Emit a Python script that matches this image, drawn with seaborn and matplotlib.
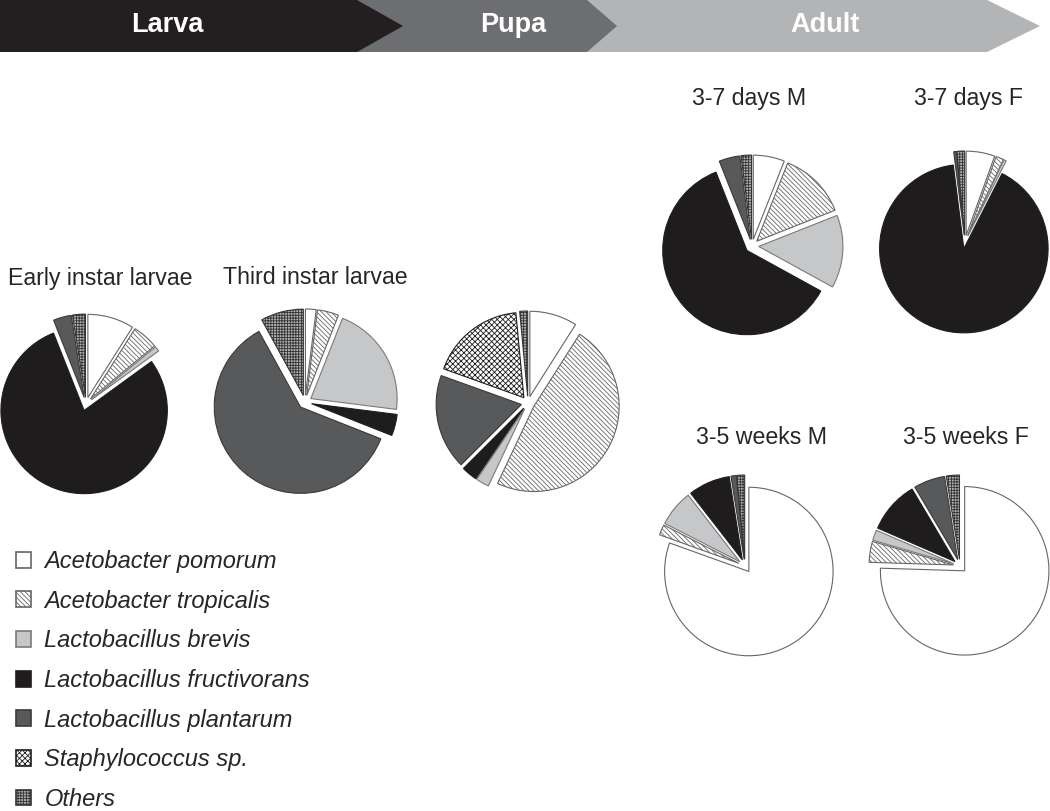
import matplotlib
matplotlib.use("Agg")
import matplotlib.pyplot as plt
import matplotlib.patches as mpatches
import seaborn as sns

# species and their fill styles
species = ['Acetobacter pomorum', 'Acetobacter tropicalis', 'Lactobacillus brevis',
           'Lactobacillus fructivorans', 'Lactobacillus plantarum', 'Staphylococcus sp.', 'Others']
colors = ['white', 'white', '#c6c7c9', '#1f1c1d', '#58595b', 'white', '#b0b0b0']
hatches = ['', '\\' * 7, '', '', '', 'x' * 6, '+' * 6]
edges = ['#666666', '#666666', '#7a7a7a', '#1f1c1d', '#3a3a3a', '#1f1c1d', '#333333']

# relative abundance (%) per stage, order as in species
early_instar = [9, 5, 1, 79, 3.5, 0, 2.5]
third_instar = [2, 4, 21, 4, 61, 0, 8]
pupa = [9, 48, 2.5, 3, 18, 18, 1.5]
days_3_7_m = [6, 13, 14, 61, 4, 0, 2]
days_3_7_f = [5.5, 1.5, 0.5, 90.5, 0.5, 0, 1.5]
weeks_3_5_m = [80.5, 2, 7, 8, 1, 0, 1.5]
weeks_3_5_f = [75.5, 4, 2, 10, 6, 0, 2.5]

titles = ['Early instar larvae', 'Third instar larvae', '', '3-7 days M', '3-7 days F',
          '3-5 weeks M', '3-5 weeks F']
stages = ['Larva', 'Pupa', 'Adult']

sns.set_theme(style='white')
plt.rcParams['font.family'] = ['Liberation Sans', 'DejaVu Sans']
plt.rcParams['hatch.linewidth'] = 0.6

W, H = 1050, 811
fig = plt.figure(figsize=(W / 100, H / 100), dpi=100)

# stage banner (chevrons)
bax = fig.add_axes([0, 0, 1, 1])
bax.set_xlim(0, W)
bax.set_ylim(H, 0)
bax.axis('off')
bax.fill([560, 987, 1040, 987, 560], [0, 0, 26, 52, 52], color='#b3b4b6', lw=0)
bax.fill([330, 587, 617, 587, 330], [0, 0, 26, 52, 52], color='#6d6e71', lw=0)
bax.fill([0, 357, 403, 357, 0], [0, 0, 26, 52, 52], color='#231f20', lw=0)
for name, x in zip(stages, [167, 513, 825]):
    bax.text(x, 25, name, color='white', fontsize=19.5, fontweight='bold',
             ha='center', va='center')


def draw_pie(values, cx, cy, r, title, tx, ty):
    S = 240
    ax = fig.add_axes([(cx - S / 2) / W, 1 - (cy + S / 2) / H, S / W, S / H])
    ax.set_xlim(-1.3, 1.3)
    ax.set_ylim(-1.3, 1.3)
    ax.axis('off')
    keep = [i for i, v in enumerate(values) if v > 0]
    wedges, _ = ax.pie([values[i] for i in keep], radius=r / (S / 2.6),
                       startangle=90, counterclock=False,
                       explode=[0.07] * len(keep),
                       colors=[colors[i] for i in keep],
                       wedgeprops=dict(linewidth=0.8))
    for w, i in zip(wedges, keep):
        w.set_edgecolor(edges[i])
        w.set_hatch(hatches[i])
    if title:
        fig.text(tx / W, 1 - ty / H, title, fontsize=16.7, ha='center', va='center')


draw_pie(early_instar, 86, 404, 80, titles[0], 100, 278)
draw_pie(third_instar, 305, 402, 83, titles[1], 315, 278)
draw_pie(pupa, 528, 403, 82, titles[2], 0, 0)
draw_pie(days_3_7_m, 752, 246, 81, titles[3], 749, 99)
draw_pie(days_3_7_f, 965, 242, 81, titles[4], 968, 99)
draw_pie(weeks_3_5_m, 745, 566, 81, titles[5], 761, 437)
draw_pie(weeks_3_5_f, 960, 566, 81, titles[6], 966, 437)

handles = [mpatches.Patch(facecolor=colors[i], edgecolor=edges[i], hatch=hatches[i],
                          linewidth=1.2, label=species[i]) for i in range(len(species))]
leg = fig.legend(handles=handles, loc='upper left', bbox_to_anchor=(16 / W, 1 - 550 / H),
                 frameon=False, borderpad=0, borderaxespad=0,
                 handlelength=0.65, handleheight=0.65, handletextpad=0.55,
                 labelspacing=0.705, prop={'size': 17, 'style': 'italic'})

fig.savefig('out.png', dpi=100)
